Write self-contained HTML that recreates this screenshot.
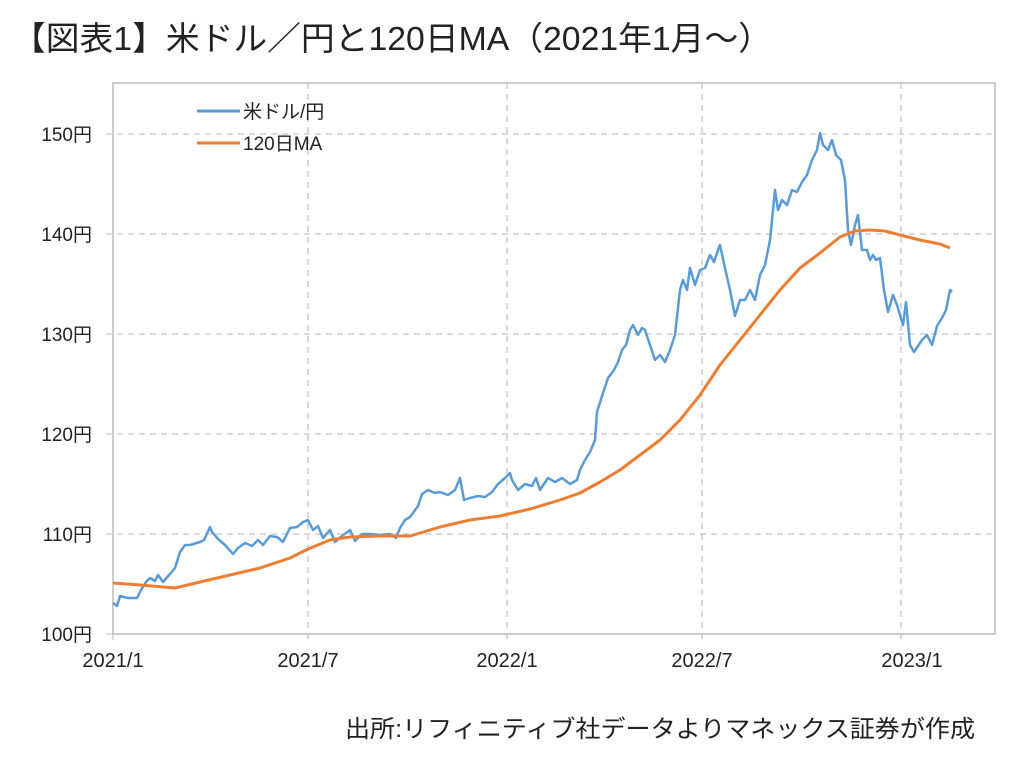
<!DOCTYPE html><html><head><meta charset="utf-8"><style>body{margin:0;background:#fff;width:1024px;height:761px;overflow:hidden}text{font-family:"Liberation Sans","Noto Sans CJK JP",sans-serif;fill:#222}</style></head><body>
<svg width="1024" height="761" xmlns="http://www.w3.org/2000/svg">
<text x="12" y="50" font-size="33" textLength="760" lengthAdjust="spacingAndGlyphs">【図表1】米ドル／円と120日MA（2021年1月～）</text>
<rect x="113" y="83" width="882" height="551" fill="none" stroke="#bbb" stroke-width="1.5"/>
<g stroke="#c4c4c4" stroke-dasharray="6,5" stroke-width="1.3">
<line x1="106" y1="134" x2="995" y2="134"/><line x1="106" y1="234" x2="995" y2="234"/><line x1="106" y1="334" x2="995" y2="334"/><line x1="106" y1="434" x2="995" y2="434"/><line x1="106" y1="534" x2="995" y2="534"/>
<line x1="308" y1="83" x2="308" y2="640"/><line x1="507" y1="83" x2="507" y2="640"/><line x1="702" y1="83" x2="702" y2="640"/><line x1="901" y1="83" x2="901" y2="640"/>
</g>
<line x1="106" y1="634" x2="113" y2="634" stroke="#bbb"/><line x1="113" y1="634" x2="113" y2="640" stroke="#bbb"/>
<g font-size="19" text-anchor="end"><text x="92" y="141">150円</text><text x="92" y="241">140円</text><text x="92" y="341">130円</text><text x="92" y="441">120円</text><text x="92" y="541">110円</text><text x="92" y="641">100円</text></g>
<g font-size="20" text-anchor="middle"><text x="113" y="667">2021/1</text><text x="308" y="667">2021/7</text><text x="507" y="667">2022/1</text><text x="702" y="667">2022/7</text><text x="912" y="667">2023/1</text></g>
<line x1="197" y1="111" x2="240" y2="111" stroke="#5b9bd5" stroke-width="3"/><text x="243" y="118" font-size="19">米ドル/円</text>
<line x1="197" y1="143" x2="240" y2="143" stroke="#ed7d31" stroke-width="3"/><text x="243" y="150" font-size="19">120日MA</text>
<polyline fill="none" stroke="#5b9bd5" stroke-width="2.5" stroke-linejoin="round" points="113,603 117,606 120,596 128,598 137,598 141,590 146,582 150,578 155,581 158,575 163,582 170,574 175,568 180,552 185,545 190,545 200,542 204,540 210,527 212,532 218,539 225,545 233,554 238,548 245,543 252,546 258,540 263,545 270,536 277,537 283,542 290,528 297,527 303,522 308,520 313,530 318,526 323,538 330,530 335,542 342,536 350,530 355,541 362,534 370,534 380,535 390,534 396,538 400,528 405,520 410,517 413,513 418,506 422,494 428,490 435,493 440,492 448,495 455,490 460,478 464,500 470,498 478,496 485,497 492,492 498,484 505,478 510,473 512,480 518,490 525,484 532,486 536,478 540,490 548,478 555,482 562,478 570,484 577,480 580,470 585,460 590,452 595,440 597,412 602,396 608,378 614,370 618,362 622,350 626,345 630,330 633,325 638,335 642,328 645,330 650,345 655,360 660,355 665,362 670,350 675,335 680,290 683,280 687,290 690,268 695,285 700,270 705,268 710,255 714,262 718,250 720,245 725,268 730,290 735,316 740,300 745,300 750,290 755,300 760,275 765,265 770,240 775,190 778,210 782,200 787,205 792,190 797,192 802,182 807,175 812,160 817,150 820,133 823,145 828,150 832,140 836,155 841,160 845,180 848,230 851,245 855,225 858,215 862,250 867,250 870,260 873,255 876,260 880,258 884,290 888,312 893,295 897,305 900,315 903,325 906,302 910,345 914,352 918,346 922,340 927,335 932,345 937,326 942,318 946,310 950,290 952,292"/>
<polyline fill="none" stroke="#ed7d31" stroke-width="3" stroke-linejoin="round" points="113,583 140,585 175,588 200,582 230,575 260,568 290,558 308,549 330,540 350,537 380,536 410,536 440,527 470,520 500,516 530,509 560,500 580,493 600,482 620,470 640,455 660,440 680,420 700,395 720,365 740,340 760,315 780,290 800,268 820,253 840,237 855,231 870,230 885,231 900,235 920,240 940,244 950,248"/>
<text x="345" y="737" font-size="24" textLength="630" lengthAdjust="spacingAndGlyphs">出所:リフィニティブ社データよりマネックス証券が作成</text>
</svg></body></html>
